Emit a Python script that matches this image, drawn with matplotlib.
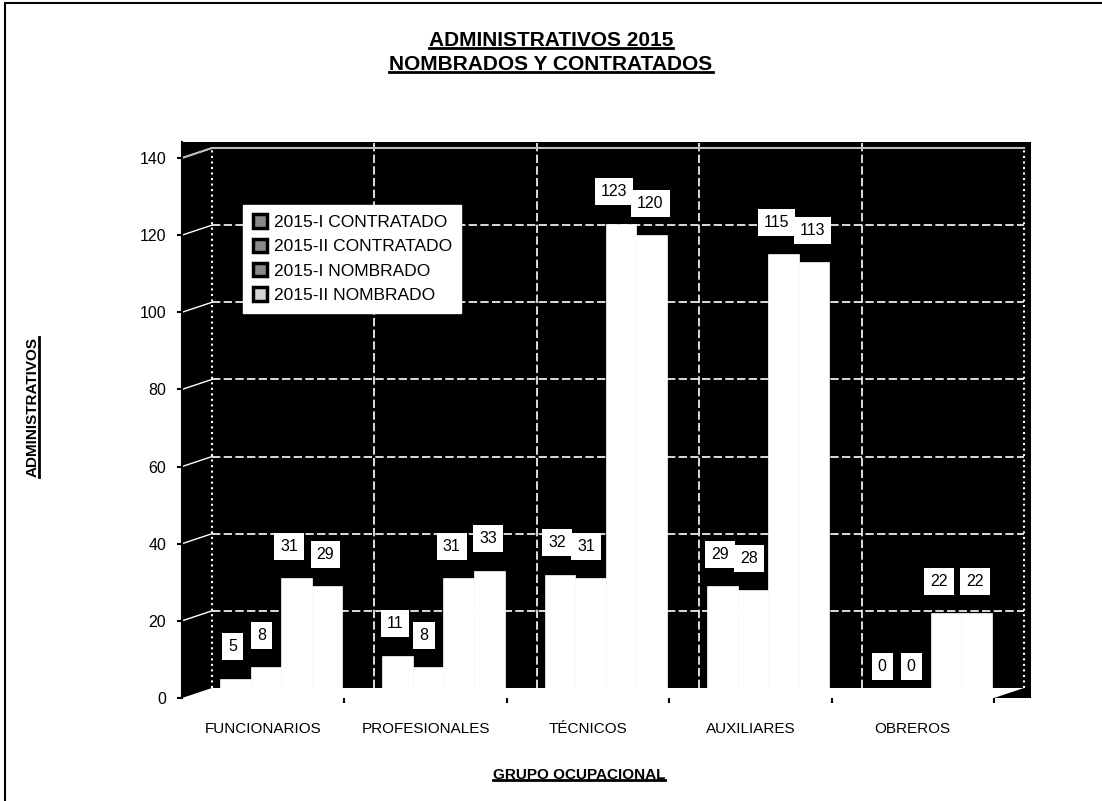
import numpy as np
import matplotlib.pyplot as plt
from matplotlib.patches import Patch, Polygon, Rectangle
from matplotlib.lines import Line2D

categorias = ['FUNCIONARIOS', 'PROFESIONALES', 'TÉCNICOS', 'AUXILIARES', 'OBREROS']
series = ['2015-I CONTRATADO', '2015-II CONTRATADO', '2015-I NOMBRADO', '2015-II NOMBRADO']
contratado_1 = [5, 11, 32, 29, 0]
contratado_2 = [8, 8, 31, 28, 0]
nombrado_1 = [31, 31, 123, 115, 22]
nombrado_2 = [29, 33, 120, 113, 22]
y_ticks = [0, 20, 40, 60, 80, 100, 120, 140]

valores = [contratado_1, contratado_2, nombrado_1, nombrado_2]
colores_leyenda = ['#8a8a8a', '#8a8a8a', '#8a8a8a', '#d4d4d4']

plt.rcParams['font.family'] = ['Liberation Sans', 'DejaVu Sans']

fig = plt.figure(figsize=(11.02, 8.01), dpi=100)
ax = fig.add_axes([182 / 1102, 1 - 698 / 801, 849 / 1102, 556 / 801])
ax.set_facecolor('black')

ymax = 144.15
xmin, xmax = -0.5, 4.728
dx, dy = 0.185, 2.6   # profundidad del efecto 3D
ax.set_xlim(xmin, xmax)
ax.set_ylim(0, ymax)

x = np.arange(len(categorias))
xend = len(categorias) - 0.5

# piso
ax.add_patch(Polygon([(xmin, 0), (xend, 0), (xend + dx, dy), (xmin + dx, dy)],
                     closed=True, facecolor='white', edgecolor='none', zorder=1))

# grilla de la pared del fondo
for v in y_ticks[1:]:
    ax.plot([xmin + dx, xend + dx], [v + dy, v + dy], color='white',
            lw=1.2, dashes=(5, 2), zorder=1)
    ax.plot([xmin, xmin + dx], [v, v + dy], color='white', lw=1, zorder=1)
for k in range(1, len(categorias)):
    ax.plot([k - 0.5 + dx] * 2, [dy, ymax], color='white', lw=1.2, dashes=(5, 2), zorder=1)
for xe in [xmin + dx, xend + dx]:
    ax.plot([xe, xe], [dy, 140 + dy], color='white', lw=1.5, ls=':', zorder=1)
ax.plot([xmin, xmin + dx, xend + dx], [140, 140 + dy, 140 + dy],
        color='#bbbbbb', lw=1.5, zorder=1)

# barras
ancho = 0.188
desplaz = [-2, -3, -5, -1]   # corrimiento horizontal de las etiquetas (pt)
for j, vals in enumerate(valores):
    pos = x + 0.11 + (j - 1.5) * ancho
    bars = ax.bar(pos, vals, ancho, color='white', edgecolor='white', lw=0.5,
                  zorder=2, label=series[j])
    for rect, v in zip(bars, vals):
        ax.annotate(str(v), (rect.get_x() + rect.get_width() / 2, v),
                    xytext=(desplaz[j], 17.5), textcoords='offset points', ha='center',
                    va='bottom', fontsize=11.5, zorder=5,
                    bbox=dict(boxstyle='square,pad=0.38', fc='white', ec='none'))

ax.set_yticks(y_ticks)
ax.set_yticklabels([str(t) for t in y_ticks], fontsize=11.5)
ax.tick_params(axis='y', direction='out', length=3.6, width=1.5, pad=7.9)
ax.set_xticks(x)
ax.set_xticklabels(categorias, fontsize=11)
ax.set_xticks(np.arange(len(categorias)) + 0.5, minor=True)
ax.tick_params(axis='x', which='major', length=0, pad=17)
ax.tick_params(axis='x', which='minor', length=3.6, width=1.5, direction='out')

for s in ['top', 'right', 'bottom']:
    ax.spines[s].set_visible(False)
ax.spines['left'].set_linewidth(1.5)

handles = [Patch(facecolor=c, edgecolor='black', lw=2.5) for c in colores_leyenda]
leg = ax.legend(handles, series, loc='upper left', bbox_to_anchor=(0.072, 0.887),
                borderaxespad=0, fontsize=12.5, frameon=True, fancybox=False,
                framealpha=1, handlelength=0.8, handleheight=0.8, handletextpad=0.4,
                labelspacing=0.5, borderpad=0.55)
leg.get_frame().set_facecolor('white')
leg.get_frame().set_edgecolor('white')
leg.set_zorder(6)

t1 = fig.text(551 / 1102, 1 - 40 / 801, 'ADMINISTRATIVOS 2015', ha='center', va='center',
              fontsize=15, fontweight='bold')
t2 = fig.text(551 / 1102, 1 - 64 / 801, 'NOMBRADOS Y CONTRATADOS', ha='center', va='center',
              fontsize=15, fontweight='bold')
ty = fig.text(33 / 1102, 1 - 407 / 801, 'ADMINISTRATIVOS', rotation=90, ha='center',
              va='center', fontsize=11, fontweight='bold')
tx = fig.text(579 / 1102, 1 - 775 / 801, 'GRUPO OCUPACIONAL', ha='center', va='center',
              fontsize=11, fontweight='bold')

fig.add_artist(Rectangle((5 / 1102, -0.05), 1.1, 1.05 - 3 / 801, transform=fig.transFigure,
                         fill=False, ec='black', lw=1.5, clip_on=False))

fig.canvas.draw()
inv = fig.transFigure.inverted()
for t, vertical in [(t1, False), (t2, False), (ty, True), (tx, False)]:
    bb = t.get_window_extent()
    if vertical:
        (x0, y0), (x1, y1) = inv.transform([(bb.x1 - 1, bb.y0), (bb.x1 - 1, bb.y1)])
    else:
        (x0, y0), (x1, y1) = inv.transform([(bb.x0, bb.y0 + 2), (bb.x1, bb.y0 + 2)])
    fig.add_artist(Line2D([x0, x1], [y0, y1], transform=fig.transFigure, color='black', lw=2))

fig.savefig('out.png', dpi=100)
